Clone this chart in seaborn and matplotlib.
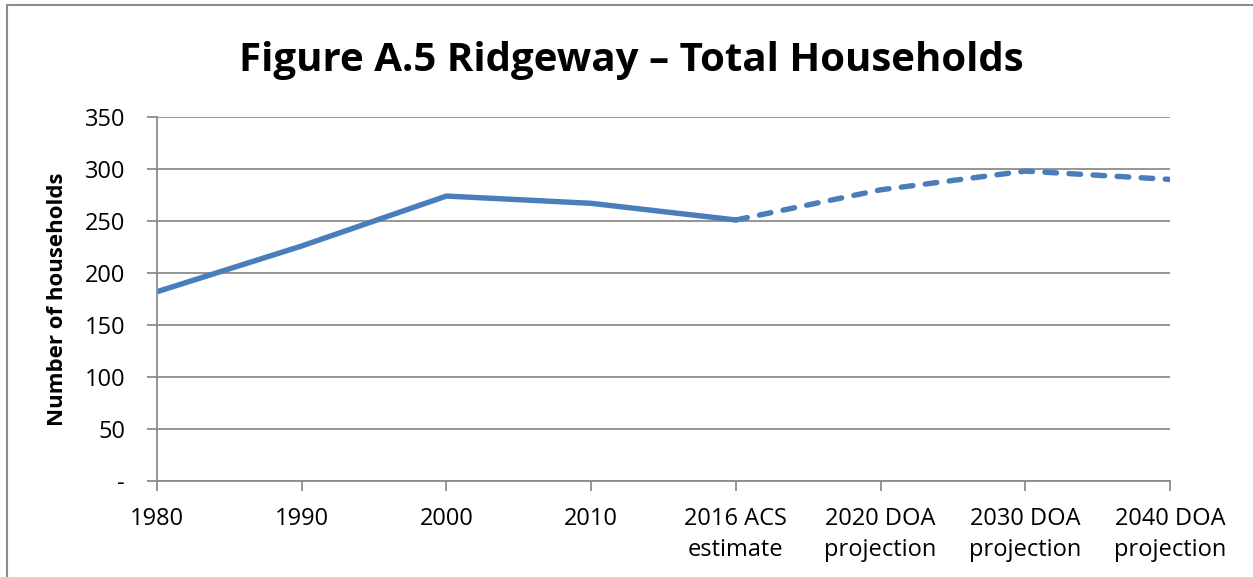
import matplotlib
matplotlib.use("Agg")
import matplotlib.pyplot as plt
import seaborn as sns
import pandas as pd

# --- data ---
categories = ["1980", "1990", "2000", "2010", "2016 ACS\nestimate",
              "2020 DOA\nprojection", "2030 DOA\nprojection", "2040 DOA\nprojection"]
households = [182, 226, 274, 267, 251, 280, 298, 290]
split_idx = 4  # 2016 ACS estimate: last observed point, projections start here

y_ticks = [0, 50, 100, 150, 200, 250, 300, 350]
y_tick_labels = ["-", "50", "100", "150", "200", "250", "300", "350"]

sns.set_style("white")
plt.rcParams["font.family"] = ["Open Sans", "DejaVu Sans"]
plt.rcParams["text.color"] = "black"
plt.rcParams["xtick.color"] = "black"
plt.rcParams["ytick.color"] = "black"
plt.rcParams["axes.labelcolor"] = "black"

df = pd.DataFrame({"pos": range(len(categories)), "households": households})
observed = df.iloc[: split_idx + 1]
projected = df.iloc[split_idx:]

line_color = "#4A7EBB"
grid_color = "#8C8C8C"

fig = plt.figure(figsize=(12.53, 5.77), dpi=100)
ax = fig.add_axes([0.1253, 0.1664, 0.9338 - 0.1253, 0.7972 - 0.1664])

sns.lineplot(data=observed, x="pos", y="households", ax=ax, color=line_color,
             linewidth=3.9, solid_capstyle="round")
sns.lineplot(data=projected, x="pos", y="households", ax=ax, color=line_color,
             linewidth=3.9, dashes=False)
# switch the projection segment to a dashed style
ax.lines[-1].set_dashes((2.15, 2.3))
ax.lines[-1].set_dash_capstyle("round")

ax.set_xlim(0, len(categories) - 1)
ax.set_ylim(0, 350)
ax.set_yticks(y_ticks)
ax.set_yticklabels(y_tick_labels, fontsize=17)
ax.set_xticks(range(len(categories)))
ax.set_xticklabels(categories, fontsize=17, linespacing=1.35)

ax.yaxis.grid(True, color=grid_color, linewidth=1.3)
ax.set_axisbelow(True)
for side in ["top", "right"]:
    ax.spines[side].set_visible(False)
for side in ["left", "bottom"]:
    ax.spines[side].set_color(grid_color)
    ax.spines[side].set_linewidth(1.3)
ax.tick_params(axis="both", direction="out", length=7, width=1.3, color=grid_color,
               left=True, bottom=True)
ax.tick_params(axis="y", pad=16)
ax.tick_params(axis="x", pad=12)

ax.set_xlabel("")
ax.set_ylabel("Number of households", fontsize=16, fontweight="bold")
ax.yaxis.set_label_coords(-0.088, 0.5)

fig.suptitle("Figure A.5 Ridgeway \u2013 Total Households", x=0.504, y=0.877,
             va="baseline", fontsize=29, fontweight="bold")

# chart-area border (left and top edge visible in the reference)
fig.add_artist(plt.Line2D([0.0056, 0.0056], [0.0, 0.991], color="#8C8C8C", linewidth=1.5))
fig.add_artist(plt.Line2D([0.0056, 1.0], [0.991, 0.991], color="#8C8C8C", linewidth=1.5))

fig.savefig("out.png", dpi=100)
